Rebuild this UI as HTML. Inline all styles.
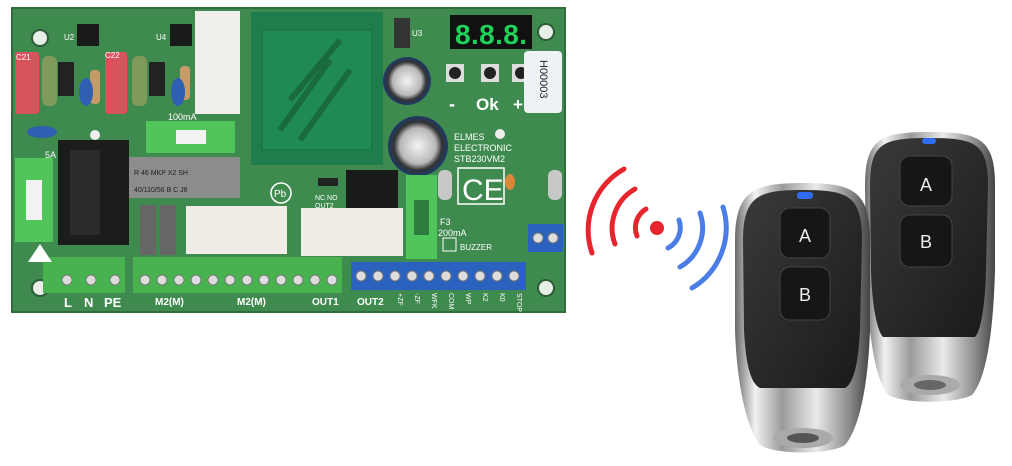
<!DOCTYPE html>
<html><head><meta charset="utf-8"><style>
html,body{margin:0;padding:0;background:#fff;}
svg{display:block;}
text{font-family:"Liberation Sans",sans-serif;}
</style></head><body>
<svg width="1012" height="466" viewBox="0 0 1012 466" xmlns="http://www.w3.org/2000/svg">
<defs>
<linearGradient id="chrome" x1="0" x2="1" y1="0" y2="0">
<stop offset="0" stop-color="#6a6a6a"/><stop offset="0.15" stop-color="#f2f2f2"/><stop offset="0.35" stop-color="#9a9a9a"/><stop offset="0.6" stop-color="#eaeaea"/><stop offset="0.85" stop-color="#8a8a8a"/><stop offset="1" stop-color="#444"/>
</linearGradient>
<linearGradient id="face" x1="0" x2="1" y1="0" y2="1">
<stop offset="0" stop-color="#3a3a3a"/><stop offset="1" stop-color="#1a1a1a"/>
</linearGradient>
<radialGradient id="cap" cx="0.5" cy="0.5" r="0.5"><stop offset="0" stop-color="#f4f4f4"/><stop offset="0.6" stop-color="#b8b8b8"/><stop offset="0.8" stop-color="#333"/><stop offset="1" stop-color="#1d3a6a"/></radialGradient>
</defs>

<!-- PCB -->
<rect x="12" y="8" width="553" height="304" fill="#3f8a4e"/>
<rect x="12" y="8" width="553" height="304" fill="none" stroke="#2f6e3c" stroke-width="2"/>
<g fill="#e8efe8" stroke="#2c5d36" stroke-width="2">
<circle cx="40" cy="38" r="8"/><circle cx="546" cy="32" r="8"/><circle cx="40" cy="288" r="8"/><circle cx="546" cy="288" r="8"/>
</g>
<circle cx="95" cy="135" r="5" fill="#eee"/><circle cx="500" cy="134" r="5" fill="#eee"/>
<rect x="77" y="24" width="22" height="22" fill="#1a1a1a"/>
<rect x="170" y="24" width="22" height="22" fill="#1a1a1a"/>
<text x="64" y="40" font-size="8" fill="#fff">U2</text>
<text x="156" y="40" font-size="8" fill="#fff">U4</text>
<rect x="15" y="52" width="24" height="62" rx="3" fill="#d9535f"/>
<rect x="105" y="52" width="22" height="62" rx="3" fill="#d9535f"/>
<text x="16" y="60" font-size="8" fill="#fff">C21</text>
<text x="105" y="58" font-size="8" fill="#fff">C22</text>
<rect x="42" y="56" width="15" height="50" rx="6" fill="#7f9a5a"/>
<rect x="132" y="56" width="15" height="50" rx="6" fill="#7f9a5a"/>
<rect x="58" y="62" width="16" height="34" fill="#222"/>
<rect x="149" y="62" width="16" height="34" fill="#222"/>
<rect x="90" y="70" width="10" height="34" rx="4" fill="#c79a6a"/>
<rect x="180" y="66" width="10" height="34" rx="4" fill="#c79a6a"/>
<ellipse cx="86" cy="92" rx="7" ry="14" fill="#2e5fb0"/>
<ellipse cx="178" cy="92" rx="7" ry="14" fill="#2e5fb0"/>
<ellipse cx="42" cy="132" rx="15" ry="6" fill="#2e5fb0"/>
<text x="168" y="120" font-size="9" fill="#fff">100mA</text>
<text x="45" y="158" font-size="9" fill="#fff">5A</text>
<rect x="195" y="11" width="45" height="103" fill="#f0eeea"/>
<rect x="251" y="12" width="132" height="153" fill="#1f7d4d"/>
<rect x="262" y="30" width="110" height="120" fill="#208a53" stroke="#1a6a40"/>
<path d="M280 130 L330 60 M300 140 L350 70 M290 100 L340 40" stroke="#1a6a40" stroke-width="6"/>
<rect x="394" y="18" width="16" height="30" fill="#333"/>
<text x="412" y="36" font-size="8" fill="#fff">U3</text>
<rect x="450" y="15" width="82" height="34" fill="#111"/>
<text x="455" y="44" font-size="28" font-family="Liberation Mono" fill="#1fd35a" font-weight="bold" textLength="72">8.8.8.</text>
<g fill="#ddd"><rect x="446" y="64" width="18" height="18"/><rect x="481" y="64" width="18" height="18"/><rect x="512" y="64" width="18" height="18"/></g>
<g fill="#222"><circle cx="455" cy="73" r="6"/><circle cx="490" cy="73" r="6"/><circle cx="521" cy="73" r="6"/></g>
<text x="449" y="110" font-size="18" fill="#fff" font-weight="bold">-</text>
<text x="476" y="110" font-size="17" fill="#fff" font-weight="bold">Ok</text>
<text x="513" y="110" font-size="17" fill="#fff" font-weight="bold">+</text>
<rect x="524" y="51" width="38" height="62" rx="4" fill="#eef2f5"/>
<text x="0" y="0" font-size="11" fill="#223" transform="translate(540 60) rotate(90)">H00003</text>
<circle cx="407" cy="81" r="24" fill="url(#cap)"/>
<circle cx="418" cy="146" r="30" fill="url(#cap)"/>
<text x="454" y="140" font-size="9" fill="#fff">ELMES</text>
<text x="454" y="151" font-size="9" fill="#fff">ELECTRONIC</text>
<text x="454" y="162" font-size="9" fill="#fff">STB230VM2</text>
<rect x="458" y="168" width="46" height="36" fill="none" stroke="#fff" stroke-width="1.5"/>
<text x="462" y="200" font-size="30" fill="#fff">CE</text>
<ellipse cx="510" cy="182" rx="5" ry="8" fill="#d9883a"/>
<rect x="438" y="170" width="14" height="30" rx="6" fill="#c8c8c8"/>
<rect x="548" y="170" width="14" height="30" rx="6" fill="#c8c8c8"/>
<rect x="58" y="140" width="71" height="105" fill="#1c1c1c"/>
<rect x="70" y="150" width="30" height="85" fill="#2b2b2b"/>
<rect x="129" y="157" width="111" height="41" fill="#8c8c8c"/>
<text x="134" y="175" font-size="7" fill="#222">R 46 MKP X2 SH</text>
<text x="134" y="192" font-size="7" fill="#222">40/110/56 B C J6</text>
<rect x="15" y="158" width="38" height="84" fill="#4fc55a"/>
<rect x="26" y="180" width="16" height="40" fill="#f2f2f2"/>
<rect x="146" y="121" width="89" height="32" fill="#4fc55a"/>
<rect x="176" y="130" width="30" height="14" fill="#f2f2f2"/>
<rect x="406" y="175" width="31" height="84" fill="#4fc55a"/>
<rect x="414" y="200" width="15" height="35" fill="#2f7d3e"/>
<text x="440" y="225" font-size="9" fill="#fff">F3</text>
<text x="438" y="236" font-size="9" fill="#fff">200mA</text>
<rect x="140" y="205" width="16" height="50" fill="#666"/>
<rect x="160" y="205" width="16" height="50" fill="#666"/>
<rect x="186" y="206" width="101" height="48" fill="#efede6"/>
<rect x="301" y="208" width="102" height="48" fill="#efede6"/>
<rect x="346" y="170" width="52" height="38" fill="#1a1a1a"/>
<rect x="318" y="178" width="20" height="8" fill="#222"/>
<text x="315" y="200" font-size="7" fill="#fff">NC NO</text>
<text x="315" y="208" font-size="7" fill="#fff">OUT2</text>
<circle cx="281" cy="193" r="10" fill="none" stroke="#fff" stroke-width="1.5"/>
<text x="274" y="197" font-size="10" fill="#fff">Pb</text>
<text x="460" y="250" font-size="8" fill="#fff">BUZZER</text>
<rect x="443" y="238" width="13" height="13" fill="none" stroke="#fff"/>
<rect x="43" y="257" width="82" height="36" fill="#48b24e"/>
<rect x="133" y="257" width="209" height="36" fill="#48b24e"/>
<rect x="351" y="262" width="175" height="28" fill="#2b62c0"/>
<rect x="528" y="224" width="35" height="28" fill="#2b62c0"/>
<g fill="#ddd" stroke="#777">
<circle cx="67" cy="280" r="5"/><circle cx="91" cy="280" r="5"/><circle cx="115" cy="280" r="5"/>
<circle cx="145" cy="280" r="5"/><circle cx="162" cy="280" r="5"/><circle cx="179" cy="280" r="5"/><circle cx="196" cy="280" r="5"/><circle cx="213" cy="280" r="5"/><circle cx="230" cy="280" r="5"/><circle cx="247" cy="280" r="5"/><circle cx="264" cy="280" r="5"/><circle cx="281" cy="280" r="5"/><circle cx="298" cy="280" r="5"/><circle cx="315" cy="280" r="5"/><circle cx="332" cy="280" r="5"/>
<circle cx="361" cy="276" r="5"/><circle cx="378" cy="276" r="5"/><circle cx="395" cy="276" r="5"/><circle cx="412" cy="276" r="5"/><circle cx="429" cy="276" r="5"/><circle cx="446" cy="276" r="5"/><circle cx="463" cy="276" r="5"/><circle cx="480" cy="276" r="5"/><circle cx="497" cy="276" r="5"/><circle cx="514" cy="276" r="5"/>
<circle cx="538" cy="238" r="5"/><circle cx="553" cy="238" r="5"/>
</g>
<g fill="#fff" font-weight="bold" font-size="13">
<text x="64" y="307">L</text><text x="84" y="307">N</text><text x="104" y="307">PE</text>
</g>
<g fill="#fff" font-weight="bold" font-size="10">
<text x="155" y="305">M2(M)</text><text x="237" y="305">M2(M)</text><text x="312" y="305">OUT1</text><text x="357" y="305">OUT2</text>
</g>
<g fill="#fff" font-size="7">
<text transform="translate(398 293) rotate(90)">+ZF</text><text transform="translate(415 293) rotate(90)">-ZF</text><text transform="translate(432 293) rotate(90)">WFK</text><text transform="translate(449 293) rotate(90)">COM</text><text transform="translate(466 293) rotate(90)">WP</text><text transform="translate(483 293) rotate(90)">K2</text><text transform="translate(500 293) rotate(90)">K0</text><text transform="translate(517 293) rotate(90)">STOP</text>
</g>
<path d="M28 262 L40 244 L52 262 Z" fill="#fff"/>

<!-- signal -->
<circle cx="657" cy="228" r="7" fill="#e8242c"/>
<g fill="none" stroke-linecap="round" stroke-width="5">
<path d="M637 236 A22 22 0 0 1 646 209" stroke="#e8242c"/>
<path d="M615 244 A45 45 0 0 1 635 189" stroke="#e8242c"/>
<path d="M592 253 A70 70 0 0 1 624 169" stroke="#e8242c"/>
<path d="M679 220 A23 23 0 0 1 668 248" stroke="#4a7ee6"/>
<path d="M700 213 A45 45 0 0 1 680 267" stroke="#4a7ee6"/>
<path d="M723 207 A70 70 0 0 1 692 288" stroke="#4a7ee6"/>
</g>

<!-- back fob -->
<path d="M930 132 C978 132 995 138 995 185 L995 270 C993 340 985 380 972 395 C955 404 905 404 888 395 C876 380 868 340 866 270 L865 185 C865 138 882 132 930 132 Z" fill="url(#chrome)"/>
<path d="M929 138 C975 138 988 143 988 185 L986 270 C985 310 980 332 975 337 L883 337 C878 332 872 310 871 270 L870 185 C870 143 883 138 929 138 Z" fill="url(#face)"/>
<rect x="922" y="138" width="14" height="6" rx="3" fill="#2f6cf0"/>
<rect x="900" y="156" width="52" height="50" rx="10" fill="#161616" stroke="#444"/>
<rect x="900" y="215" width="52" height="52" rx="10" fill="#161616" stroke="#444"/>
<text x="926" y="191" font-size="18" fill="#eee" text-anchor="middle">A</text>
<text x="926" y="248" font-size="18" fill="#eee" text-anchor="middle">B</text>
<ellipse cx="930" cy="385" rx="30" ry="10" fill="#aaa"/>
<ellipse cx="930" cy="385" rx="16" ry="5" fill="#666"/>

<!-- front fob -->
<path d="M803 183 C852 183 870 190 870 240 L870 330 C868 390 858 430 845 445 C830 455 775 455 760 445 C748 430 737 390 735 330 L735 240 C735 190 755 183 803 183 Z" fill="url(#chrome)"/>
<path d="M803 190 C847 190 862 195 862 240 L860 330 C858 370 852 384 845 388 L760 388 C752 384 746 370 744 330 L743 240 C743 195 760 190 803 190 Z" fill="url(#face)"/>
<rect x="797" y="192" width="16" height="7" rx="3" fill="#2f6cf0"/>
<rect x="780" y="208" width="50" height="50" rx="10" fill="#161616" stroke="#444"/>
<rect x="780" y="267" width="50" height="53" rx="10" fill="#161616" stroke="#444"/>
<text x="805" y="242" font-size="18" fill="#eee" text-anchor="middle">A</text>
<text x="805" y="301" font-size="18" fill="#eee" text-anchor="middle">B</text>
<ellipse cx="803" cy="438" rx="30" ry="10" fill="#aaa"/>
<ellipse cx="803" cy="438" rx="16" ry="5" fill="#555"/>
</svg>
</body></html>
